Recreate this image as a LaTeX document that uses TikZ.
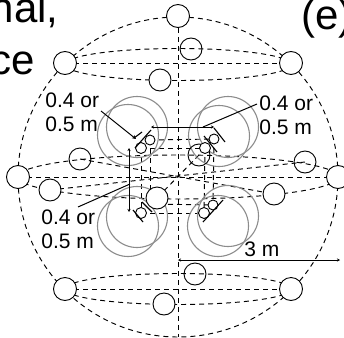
\documentclass[tikz,border=0pt]{standalone}
\usepackage{fontspec}
\setmainfont{Liberation Sans}
\usetikzlibrary{arrows.meta,backgrounds}
\tikzset{
	sphere diagram/.style={x=1pt, y=-1pt, line width=.9pt},
	wire/.style={line width=.95pt, dash pattern=on 5pt off 4pt},
	mic/.style={draw, circle, fill=white, inner sep=0pt, minimum size=22pt},
	mic open/.style={draw, circle, inner sep=0pt, minimum size=22pt},
	mic big/.style={draw, circle, fill=white, inner sep=0pt, minimum size=23pt},
	spk/.style={draw, circle, fill=white, inner sep=0pt, minimum size=#1},
	zone/.style={draw=black!45, circle, line width=1.1pt, inner sep=0pt, minimum size=61pt},
	bar/.style={line width=1.1pt},
	span/.style={line width=1pt, {Stealth[length=3pt,width=3pt]}-{Stealth[length=3pt,width=3pt]}},
	lbl/.style={inner sep=0pt, font=\fontsize{21}{24}\selectfont, align=left},
	big lbl/.style={inner sep=0pt, font=\fontsize{42}{50}\selectfont}
}
\begin{document}
\begin{tikzpicture}[sphere diagram]
  \useasboundingbox (0,0) rectangle (344,337);
  \coordinate (C) at (178,177);
  \coordinate (ringT) at (178,64.5);
  \coordinate (ringM) at (178,177);
  \coordinate (ringB) at (178,289);
  % gray zones
  \foreach \n/\x/\y in {a/137/127, b/128/135, c/228/127, d/219/136, e/137/217, f/128/226, g/228/216, h/218/226}
    \node[zone] (zone\n) at (\x,\y) {};
  % microphones
  \node[mic big] (mN) at (178,16) {};
  \node[mic big] (mW) at (18,177) {};
  \node[mic big] (mE) at (338,177) {};
  \node[mic big] (mTL) at (65,63) {};
  \node[mic big] (mTR) at (291,63) {};
  \node[mic big] (mBL) at (65,289) {};
  \node[mic big] (mBR) at (291,289) {};
  \node[mic] (r1) at (160,80) {};
  \node[mic open] (r2) at (191,49) {};
  \node[mic open] (r3) at (80,159) {};
  \node[mic] (r4) at (50,190) {};
  \node[mic open] (r5) at (305,162) {};
  \node[mic] (r6) at (274,194) {};
  \node[mic open] (r7) at (199,155) {};
  \node[mic] (r8) at (157,198) {};
  \node[mic] (r9) at (164,304) {};
  \node[mic open] (r10) at (195,274) {};
  % loudspeakers
  \node[spk=10pt] (s1) at (150,140) {};
  \node[spk=11pt] (s2) at (141,148) {};
  \node[spk=10pt] (s3) at (214,139) {};
  \node[spk=11pt] (s4) at (205,148) {};
  \node[spk=11pt] (s5) at (141,213) {};
  \node[spk=10pt] (s6) at (213,205) {};
  \node[spk=11pt] (s7) at (204,213) {};
  \coordinate (s8) at (150,204);
  \begin{scope}[on background layer]
    \draw[wire] (C) circle (160);
    \draw[wire] (ringT) ellipse (113 and 16);
    \draw[wire] (ringB) ellipse (113 and 15.5);
    \draw[wire] (ringM) ellipse (160 and 22);
    \draw[wire] (mN) -- (178,337);
    \foreach \a/\b in {mTL/mTR, mBL/mBR, mW/mE, r3/r6, r4/r5, r7/r8, s1/s3, s2/s4, s8/s6, s5/s7, s1/s8, s2/s5, s3/s6, s4/s7}
      \draw[wire] (\a.center) -- (\b.center);
  \end{scope}
  % enclosures and spans
  \draw[bar] (151,130) -- (135,148);
  \draw[bar] (214,128) -- (225,142);
  \draw[bar] (204,136) -- (217,152);
  \draw[bar] (133,210) -- (143,222);
  \draw[bar] (142,202) -- (152,212);
  \draw[bar] (203,222) -- (223,200);
  \draw[span] (151,127) -- (214,127);
  \draw[span] (129,148) -- (129,212);
  \draw[span] (178,260) -- (340,260);
  % labels
  \node[lbl, anchor=north west] (lblA) at (45,92) {0.4 or\\0.5 m};
  \node[lbl, anchor=north west] (lblB) at (259,95) {0.4 or\\0.5 m};
  \node[lbl, anchor=north west] (lblC) at (41,209) {0.4 or\\0.5 m};
  \node[lbl, anchor=base west] (lblD) at (244,256) {3 m};
  \node[big lbl, anchor=base east] (txtA) at (59,23) {nal,};
  \node[big lbl, anchor=base east] (txtB) at (35,74) {ce};
  \node[big lbl, anchor=base west] (txtC) at (301,30) {(e)};
  \coordinate (endA) at (136,139);
  \coordinate (endB) at (203,127);
  \coordinate (endC) at (130,184);
  \draw[-{Stealth[length=4pt,width=4pt]}, line width=1pt] (101,111) -- (endA);
  \draw[bar] (134,138) -- (142,132);
  \draw[line width=1pt] (257,104) -- (endB);
  \draw[line width=1pt] (78,207) -- (endC);
\end{tikzpicture}
\end{document}
